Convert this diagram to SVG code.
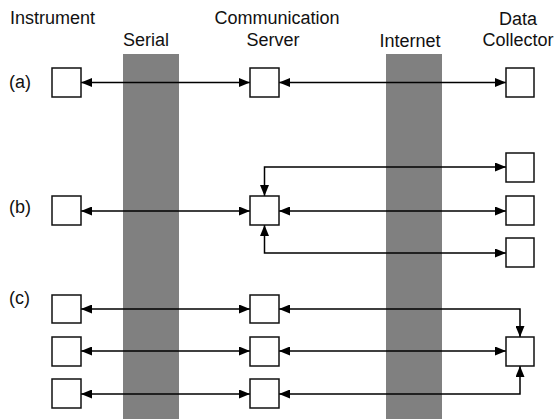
<svg xmlns="http://www.w3.org/2000/svg" width="558" height="419" viewBox="0 0 558 419">
  <defs>
    <marker id="ah" markerUnits="userSpaceOnUse" markerWidth="11" markerHeight="9" refX="11" refY="4.5" orient="auto-start-reverse">
      <path d="M0,0 L11,4.5 L0,9 z" fill="#000"/>
    </marker>
    <style>
      text { font-family: "Liberation Sans", Arial, sans-serif; font-size: 18px; fill: #111; }
      .mid { text-anchor: middle; }
      .band { fill: #808080; }
      .box { fill: #fff; stroke: #111; stroke-width: 1.5; }
      .link { fill: none; stroke: #000; stroke-width: 1.5; }
      .both { marker-start: url(#ah); marker-end: url(#ah); }
    </style>
  </defs>
  <rect width="558" height="419" fill="#fff"/>

  <!-- column headings -->
  <g id="headings">
    <text x="10" y="24">Instrument</text>
    <text class="mid" x="277" y="24">Communication</text>
    <text class="mid" x="273" y="46">Server</text>
    <text class="mid" x="518" y="25">Data</text>
    <text class="mid" x="518" y="46">Collector</text>
    <text class="mid" x="146" y="46">Serial</text>
    <text class="mid" x="410" y="47">Internet</text>
  </g>

  <!-- transport bands -->
  <g id="serial"><rect class="band" x="123" y="54" width="56" height="365"/></g>
  <g id="internet"><rect class="band" x="386" y="54" width="56" height="365"/></g>

  <!-- row labels -->
  <text x="9" y="88">(a)</text>
  <text x="9" y="213">(b)</text>
  <text x="9" y="304">(c)</text>

  <!-- connectors -->
  <g id="connectors">
    <!-- (a) -->
    <line class="link both" x1="81" y1="82.5" x2="250" y2="82.5"/>
    <line class="link both" x1="279" y1="82.5" x2="506" y2="82.5"/>
    <!-- (b) -->
    <line class="link both" x1="81" y1="211" x2="250" y2="211"/>
    <line class="link both" x1="279" y1="211" x2="506" y2="211"/>
    <path class="link both" d="M506,167 H264.5 V196"/>
    <path class="link both" d="M506,253 H264.5 V225"/>
    <!-- (c) -->
    <line class="link both" x1="81" y1="309" x2="250" y2="309"/>
    <line class="link both" x1="81" y1="351" x2="250" y2="351"/>
    <line class="link both" x1="81" y1="394" x2="250" y2="394"/>
    <path class="link both" d="M279,309 H520 V337"/>
    <line class="link both" x1="279" y1="351" x2="506" y2="351"/>
    <path class="link both" d="M279,394 H520 V366"/>
  </g>

  <!-- (a) nodes -->
  <g id="a-instrument"><rect class="box" x="52" y="68" width="29" height="29"/></g>
  <g id="a-server"><rect class="box" x="250" y="68" width="29" height="29"/></g>
  <g id="a-collector"><rect class="box" x="506" y="68" width="28" height="29"/></g>

  <!-- (b) nodes -->
  <g id="b-instrument"><rect class="box" x="52" y="196" width="29" height="29"/></g>
  <g id="b-server"><rect class="box" x="250" y="196" width="29" height="29"/></g>
  <g id="b-collector-1"><rect class="box" x="506" y="153" width="28" height="29"/></g>
  <g id="b-collector-2"><rect class="box" x="506" y="196" width="28" height="29"/></g>
  <g id="b-collector-3"><rect class="box" x="506" y="238" width="28" height="29"/></g>

  <!-- (c) nodes -->
  <g id="c-instrument-1"><rect class="box" x="52" y="295" width="29" height="28"/></g>
  <g id="c-instrument-2"><rect class="box" x="52" y="337" width="29" height="29"/></g>
  <g id="c-instrument-3"><rect class="box" x="52" y="379" width="29" height="29"/></g>
  <g id="c-server-1"><rect class="box" x="250" y="295" width="29" height="28"/></g>
  <g id="c-server-2"><rect class="box" x="250" y="337" width="29" height="29"/></g>
  <g id="c-server-3"><rect class="box" x="250" y="379" width="29" height="29"/></g>
  <g id="c-collector"><rect class="box" x="506" y="337" width="28" height="29"/></g>
</svg>
